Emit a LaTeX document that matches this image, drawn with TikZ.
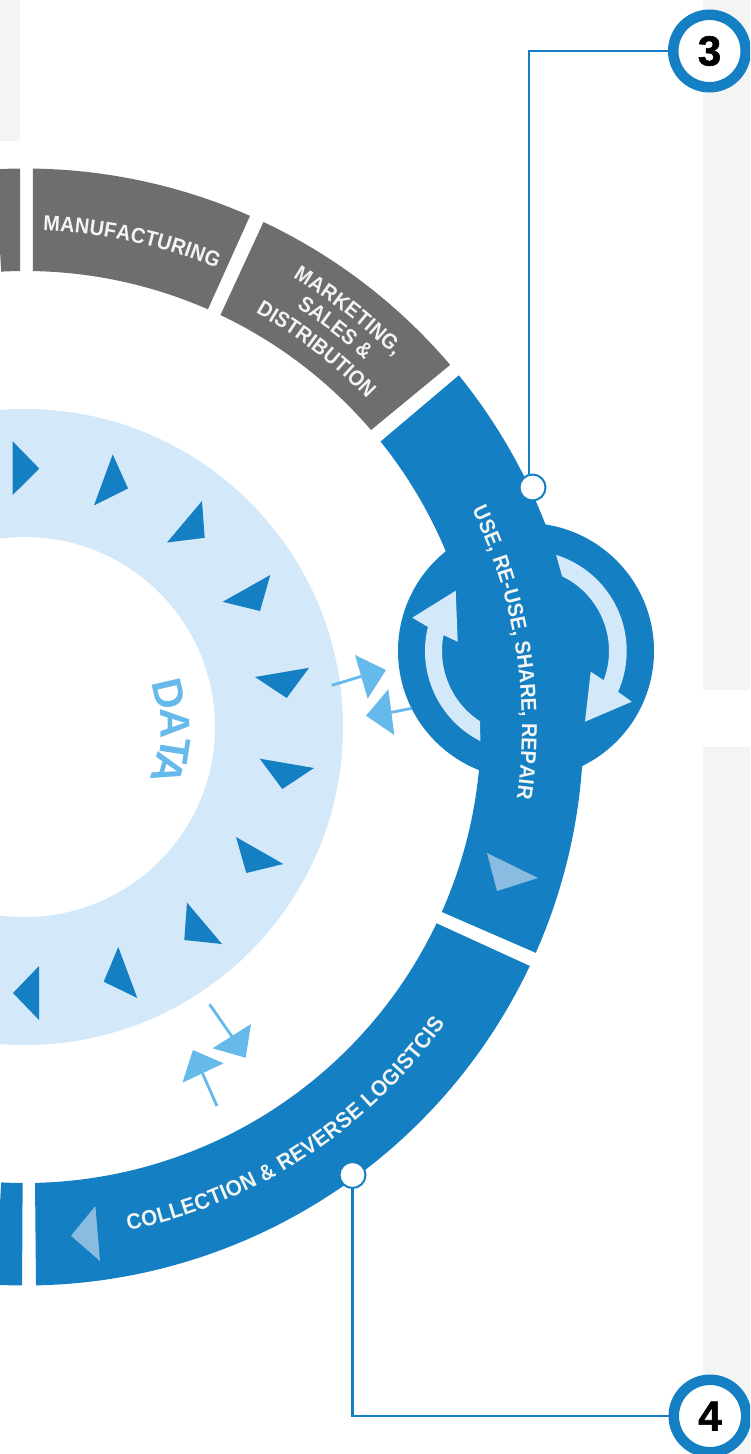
\documentclass[tikz,border=0pt]{standalone}
\usepackage{fontspec}
\setmainfont{Liberation Sans}
\newfontfamily\heavyfont[FakeBold=1.5]{Liberation Sans Bold}
\newfontfamily\narrowfont[FakeStretch=0.92]{Liberation Sans Bold}
\newfontfamily\widerfont[FakeStretch=0.94]{Liberation Sans Bold}
\newfontfamily\plainbold{Liberation Sans Bold}
\usetikzlibrary{decorations.text}
\definecolor{ringblue}{HTML}{147FC3}
\definecolor{ringgrey}{HTML}{6D6E70}
\definecolor{paleblue}{HTML}{D3E8F8}
\definecolor{skyblue}{HTML}{66B9EB}
\definecolor{fadedtri}{HTML}{8ABBE0}
\definecolor{panelgrey}{HTML}{F3F5F2}
\definecolor{labelwhite}{HTML}{F3F5F2}
\newcommand\lab{\narrowfont\fontsize{21.5}{24}\selectfont\color{labelwhite}}
\newcommand\labwide{\widerfont\fontsize{22}{24}\selectfont\color{labelwhite}}
% colour, outer start, outer end, inner end, inner start
\newcommand\ringseg[5]{\fill[#1] ([shift={(25,-727)}]#2:558.5) arc[start angle=#2,end angle=#3,radius=558.5pt] -- ([shift={(25,-727)}]#4:456) arc[start angle=#4,end angle=#5,radius=456pt] -- cycle;}
% radius, start angle, end angle, text
\newcommand\arctext[4]{\path[decorate,decoration={text along path,text align={fit to path},text={#4}}] ([shift={(25,-727)}]#2:#1) arc[start angle=#2,end angle=#3,radius=#1pt];}
\tikzset{
  tri/.style={fill=ringblue},
  faded/.style={fill=fadedtri},
  flow/.style={fill=paleblue},
  tipstyle/.style={fill=skyblue},
  stemstyle/.style={draw=skyblue,line width=2.8pt},
  wire/.style={draw=ringblue,line width=2.4pt},
  badge/.style={circle,draw=ringblue,fill=white,line width=10.5pt,minimum size=72.5pt,inner sep=0pt,font=\heavyfont\fontsize{42}{42}\selectfont,text=black},
  dot/.style={circle,draw=ringblue,fill=white,line width=2pt,minimum size=26pt,inner sep=0pt},
  dataletter/.style={inner sep=0pt,text=skyblue,font=\plainbold\fontsize{42}{42}\selectfont}
}
\begin{document}
\begin{tikzpicture}[x=1pt,y=1pt]
\useasboundingbox (0,0) rectangle (750,-1454);
\clip (0,0) rectangle (750,-1454);
% panels
\fill[panelgrey] (0,0) rectangle (20,-141);
\fill[panelgrey] (703,0) rectangle (750,-690);
\fill[panelgrey] (703,-747) rectangle (750,-1454);
% data ring
\fill[paleblue,even odd rule] (25,-727) circle[radius=318pt] (25,-727) circle[radius=190pt];
% outer ring
\ringseg{ringgrey}{93}{90.5}{90.6}{93}
\ringseg{ringgrey}{89.18}{66.24}{66.35}{89.0}
\ringseg{ringgrey}{64.72}{40.42}{40.64}{64.62}
\ringseg{ringblue}{39.03}{-23.85}{-23.93}{38.76}
\ringseg{ringblue}{-25.33}{-88.87}{-88.74}{-25.5}
\ringseg{ringblue}{-90.3}{-93}{-93}{-90.3}
% use circle
\fill[ringblue] (526,-651) circle[radius=128pt];
% cycle arrows
\fill[flow] ([shift={(526,-651)}]72.6:100.7) arc[start angle=72.6,end angle=-23.9,radius=100.7pt] -- (631.7,-701.7) -- (585,-721.7) -- (590.7,-671.7) -- (603.3,-680) -- ([shift={(526,-651)}]-20.6:83) arc[start angle=-20.6,end angle=64.2,radius=83pt] -- cycle;
\fill[flow] ([shift={(526,-651)}]243.1:101) arc[start angle=243.1,end angle=166.2,radius=101pt] -- (412.3,-617.7) -- (455.7,-590.7) -- (457.7,-641.7) -- (443.3,-635) -- ([shift={(526,-651)}]169:84) arc[start angle=169,end angle=236.9,radius=84pt] -- cycle;
% triangles in data ring
\fill[tri] (12.7,-441.3) -- (39.3,-468.6) -- (12.7,-495) -- cycle;
\fill[tri] (112.7,-454.4) -- (128,-488.4) -- (94,-505.4) -- cycle;
\fill[tri] (202,-501) -- (204.7,-537.8) -- (167,-542.5) -- cycle;
\fill[tri] (270.3,-575) -- (260,-611) -- (222.7,-601.8) -- cycle;
\fill[tri] (309,-667.8) -- (286.7,-698) -- (255,-677) -- cycle;
\fill[tri] (259.7,-758.7) -- (314,-768) -- (282.3,-789) -- cycle;
\fill[tri] (236,-837) -- (283.3,-864) -- (246.3,-873) -- cycle;
\fill[tri] (187,-902.6) -- (222,-944) -- (184.3,-940) -- cycle;
\fill[tri] (118.3,-947) -- (137.3,-998) -- (103.7,-981.7) -- cycle;
\fill[tri] (39,-966) -- (13,-993) -- (39,-1020) -- cycle;
% faded triangles
\fill[faded] (487,-853) -- (538,-878) -- (497,-891) -- cycle;
\fill[faded] (95.4,-1206) -- (71,-1235.7) -- (100,-1261) -- cycle;
% small exchange arrows
\draw[stemstyle] (331.7,-685.3) -- (362,-676.2);
\fill[tipstyle] (355,-655) -- (386,-670) -- (367.7,-698.7) -- cycle;
\draw[stemstyle] (411.7,-708.3) -- (389,-712.8);
\fill[tipstyle] (388.3,-689.3) -- (366,-715.7) -- (394.3,-735) -- cycle;
\draw[stemstyle] (209.6,-1004.3) -- (233,-1038);
\fill[tipstyle] (251,-1024) -- (245.7,-1057.7) -- (212.5,-1048.3) -- cycle;
\draw[stemstyle] (217,-1106) -- (201,-1070);
\fill[tipstyle] (192.9,-1050) -- (223.6,-1063.3) -- (182.5,-1082.7) -- cycle;
% labels
\arctext{497}{87.9}{67.3}{|\lab|MANUFACTURING}
\arctext{523}{59.2}{45.1}{|\lab|MARKETING,}
\arctext{500}{57.1}{47.2}{|\lab|SALES {\&}}
\arctext{474}{60.9}{43.8}{|\lab|DISTRIBUTION}
\arctext{497}{25.9}{-8.24}{|\lab|USE, RE-USE, SHARE, REPAIR}
\arctext{514}{-78.4}{-35.2}{|\labwide|COLLECTION {\&} REVERSE LOGISTCIS}
% DATA
\node[dataletter,rotate=-77] (dataD) at (169,-694) {D};
\node[dataletter,rotate=-89] (dataA) at (175,-723) {A};
\node[dataletter,rotate=-99] (dataT) at (174.5,-750) {T};
\node[dataletter,rotate=-106] (dataB) at (168.5,-769) {A};
% badges, dots, connectors
\node[badge] (b3) at (709.5,-51) {3};
\node[badge] (b4) at (710,-1416) {4};
\node[dot] (d3) at (532.5,-487.5) {};
\node[dot] (d4) at (352.5,-1175) {};
\coordinate (k3) at (529,-51);
\coordinate (k4) at (352.5,-1416);
\draw[wire] (b3.west) -- (k3) -- (k3 |- d3.north);
\draw[wire] (d4.south) -- (k4) -- (b4.west);
\end{tikzpicture}
\end{document}
